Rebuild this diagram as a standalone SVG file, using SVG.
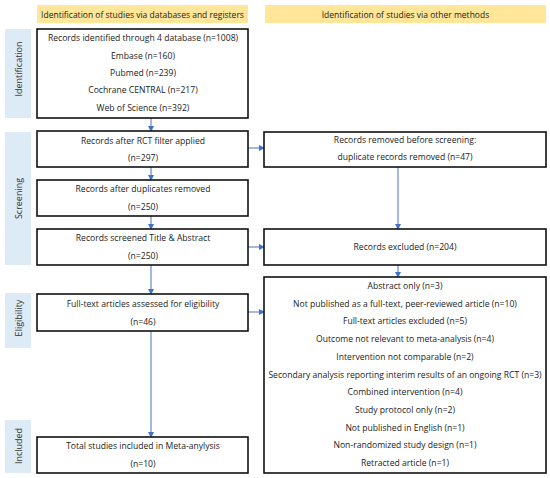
<svg xmlns="http://www.w3.org/2000/svg" width="550" height="478" viewBox="0 0 550 478">
<defs>
<marker id="ah" markerWidth="6" markerHeight="6" refX="5" refY="3" orient="auto" markerUnits="userSpaceOnUse">
<path d="M0,0 L6,3 L0,6 Z" fill="#4472C4"/>
</marker>
<style>
.box{fill:#fff;stroke:#111;stroke-width:1.6}
.hdr{fill:#FFE699}
.side{fill:#DDEBF7}
text{font-family:"Open Sans","Liberation Sans",sans-serif;font-size:8.6px;fill:#222;text-anchor:middle;dominant-baseline:central}
.st{font-size:9px;fill:#333}
.hd{font-size:8.5px}
.con{stroke:#4472C4;stroke-width:1;fill:none;marker-end:url(#ah)}
</style>
</defs>
<rect width="550" height="478" fill="#fff"/>
<g id="header-left"><rect class="hdr" x="37" y="5" width="211" height="18"/><text class="hd" x="142.5" y="14">Identification of studies via databases and registers</text></g>
<g id="header-right"><rect class="hdr" x="265" y="5" width="281" height="18"/><text class="hd" x="405.5" y="14">Identification of studies via other methods</text></g>
<g id="side-identification"><rect class="side" x="5" y="29" width="26" height="89"/><text class="st" transform="translate(18,69) rotate(-90)">Identification</text></g>
<g id="side-screening"><rect class="side" x="5" y="132" width="26" height="133"/><text class="st" transform="translate(18,198.5) rotate(-90)">Screening</text></g>
<g id="side-eligibility"><rect class="side" x="5" y="293" width="26" height="55"/><text class="st" transform="translate(18,318) rotate(-90)">Eligibility</text></g>
<g id="side-included"><rect class="side" x="5" y="420" width="26" height="53"/><text class="st" transform="translate(18,446) rotate(-90)">Included</text></g>
<g id="connectors">
<path class="con" d="M151,118 V131"/>
<path class="con" d="M151,167 V180"/>
<path class="con" d="M151,216 V229"/>
<path class="con" d="M151,265 V294"/>
<path class="con" d="M151,331 V437"/>
<path class="con" d="M248,148 H264"/>
<path class="con" d="M248,247 H264"/>
<path class="con" d="M248,312 H264"/>
<path class="con" d="M398,167 V229"/>
<path class="con" d="M398,265 V277"/>
</g>
<g id="n-records-identified"><rect class="box" x="37" y="29" width="211" height="89"/>
<text x="143" y="38">Records identified through 4 database (n=1008)</text>
<text x="143" y="56">Embase (n=160)</text>
<text x="143" y="73">Pubmed (n=239)</text>
<text x="143" y="90">Cochrane CENTRAL (n=217)</text>
<text x="143" y="108">Web of Science (n=392)</text></g>
<g id="n-rct-filter"><rect class="box" x="37" y="131" width="211" height="36"/>
<text x="143" y="141">Records after RCT filter applied</text><text x="143" y="158">(n=297)</text></g>
<g id="n-after-duplicates"><rect class="box" x="37" y="180" width="211" height="36"/>
<text x="143" y="189">Records after duplicates removed</text><text x="143" y="207">(n=250)</text></g>
<g id="n-screened"><rect class="box" x="37" y="229" width="211" height="36"/>
<text x="143" y="238">Records screened Title &amp; Abstract</text><text x="143" y="256">(n=250)</text></g>
<g id="n-fulltext"><rect class="box" x="37" y="294" width="211" height="37"/>
<text x="143" y="304">Full-text articles assessed for eligibility</text><text x="143" y="322">(n=46)</text></g>
<g id="n-included"><rect class="box" x="37" y="437" width="211" height="36"/>
<text x="143" y="446">Total studies included in Meta-anylysis</text><text x="143" y="464">(n=10)</text></g>
<g id="n-removed"><rect class="box" x="264" y="132" width="282" height="35"/>
<text x="405" y="140">Records removed before screening:</text><text x="405" y="157">duplicate records removed (n=47)</text></g>
<g id="n-excluded"><rect class="box" x="264" y="229" width="282" height="36"/>
<text x="405" y="247">Records excluded (n=204)</text></g>
<g id="n-fulltext-excluded"><rect class="box" x="264" y="277" width="282" height="196"/>
<text x="405" y="286">Abstract only (n=3)</text>
<text x="405" y="303.7">Not published as a full-text, peer-reviewed article (n=10)</text>
<text x="405" y="321.4">Full-text articles excluded (n=5)</text>
<text x="405" y="339.1">Outcome not relevant to meta-analysis (n=4)</text>
<text x="405" y="356.8">Intervention not comparable (n=2)</text>
<text x="405" y="374.5">Secondary analysis reporting interim results of an ongoing RCT (n=3)</text>
<text x="405" y="392.2">Combined intervention (n=4)</text>
<text x="405" y="409.9">Study protocol only (n=2)</text>
<text x="405" y="427.6">Not published in English (n=1)</text>
<text x="405" y="445.3">Non-randomized study design (n=1)</text>
<text x="405" y="463">Retracted article (n=1)</text></g>
</svg>
